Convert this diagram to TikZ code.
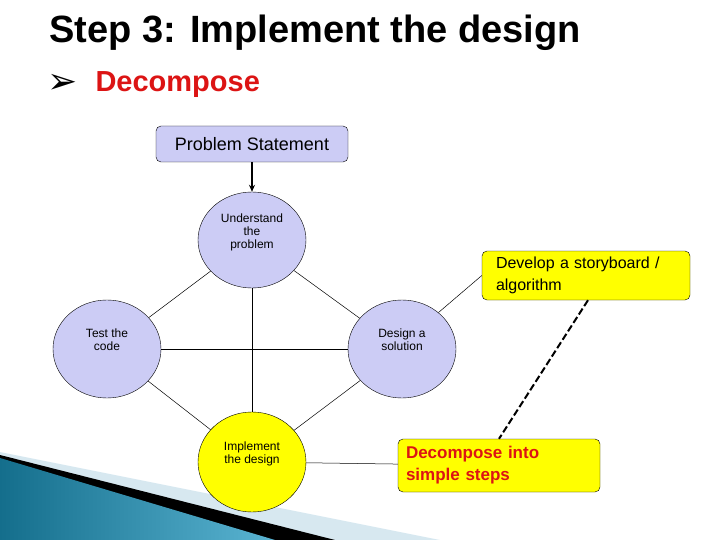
\documentclass[tikz,border=0pt]{standalone}
\usepackage{fontspec}
\setmainfont{Liberation Sans}
\newfontfamily\symfont{DejaVu Sans}
\usetikzlibrary{arrows.meta,shapes.geometric}
\definecolor{lav}{RGB}{204,204,245}
\definecolor{yel}{RGB}{255,255,0}
\definecolor{redt}{RGB}{220,20,20}
\definecolor{teal1}{RGB}{20,110,140}
\definecolor{teal2}{RGB}{90,180,210}
\definecolor{lblue}{RGB}{215,232,240}
\begin{document}
\begin{tikzpicture}[x=1pt,y=-1pt,
  circ/.style={draw,ellipse,fill=lav,minimum width=108pt,minimum height=98pt,inner sep=0pt,align=center,font=\fontsize{12}{13}\selectfont},
  rbox/.style={draw,rounded corners=5pt,inner sep=0pt,align=left},
  link/.style={draw,line width=0.5pt}]
\path[use as bounding box] (0,0) rectangle (720,540);
% decoration
\fill[lblue] (0,452) -- (440,540) -- (0,540) -- cycle;
\fill[black] (0,455) -- (335,540) -- (0,540) -- cycle;
\shade[left color=teal1,right color=teal2] (0,458) -- (275,540) -- (0,540) -- cycle;
% title
\node[anchor=west,font=\bfseries\fontsize{38}{42}\selectfont] (title) at (46,33) {Step 3: Implement the design};
\node[anchor=west,font=\symfont\bfseries\fontsize{36}{40}\selectfont] (bul) at (44,84) {➢};
\node[anchor=west,text=redt,font=\bfseries\fontsize{29}{32}\selectfont] (dec) at (92,85) {Decompose};
% nodes
\node[rbox,fill=lav,minimum width=192pt,minimum height=36pt,align=center,font=\fontsize{18}{20}\selectfont] (ps) at (252,144) {Problem Statement};
\node[circ,minimum width=108pt,minimum height=96pt] (und) at (252,240) {Understand\\the\\problem\\[4pt]};
\node[circ] (test) at (107,349) {Test the\\code\\[6pt]};
\node[circ] (des) at (402,349) {Design a\\solution\\[6pt]};
\node[circ,fill=yel,minimum height=100pt] (imp) at (252,462) {Implement\\the design\\[6pt]};
\node[rbox,fill=yel,minimum width=208pt,minimum height=49pt,font=\fontsize{16}{22}\selectfont,text width=180pt] (dev) at (586,275.5) {Develop a storyboard /\\algorithm};
\node[rbox,fill=yel,minimum width=202pt,minimum height=53pt,font=\bfseries\fontsize{17}{22}\selectfont,text=redt,text width=186pt] (dic) at (499,465.5) {Decompose into\\simple steps};
% connectors
\draw[line width=1.3pt,-{Stealth[length=7pt,width=6pt]}] (ps) -- (und);
\draw[link] (und) -- (test);
\draw[link] (und) -- (des);
\draw[link] (und.south) -- (imp.north);
\draw[link] (test) -- (des);
\draw[link] (test) -- (imp);
\draw[link] (des) -- (imp);
\draw[link] (imp) -- (dic);
\draw[link] (des.45) -- (dev.west);
\draw[line width=2pt,dash pattern=on 7pt off 3pt] (dev.south) ++(2,0) coordinate (d1) (d1) -- (dic.north);
\end{tikzpicture}
\end{document}
